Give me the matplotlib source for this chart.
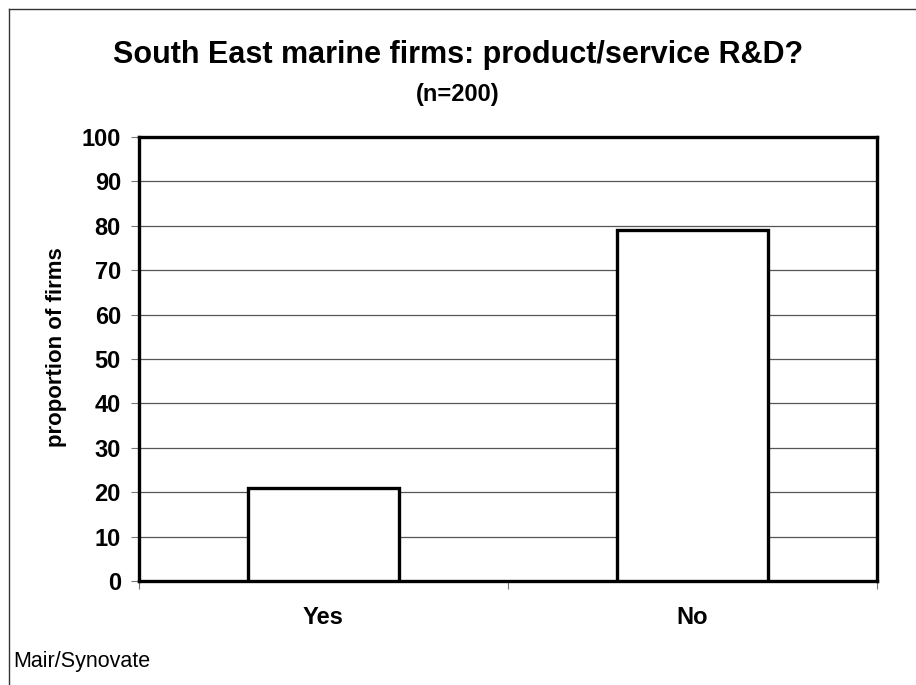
import matplotlib.pyplot as plt
from matplotlib.lines import Line2D

plt.rcParams['font.family'] = ['Liberation Sans', 'DejaVu Sans']

# survey answers (percent of firms)
categories = ["Yes", "No"]
shares = [21, 79]
y_ticks = list(range(0, 101, 10))

fig = plt.figure(figsize=(9.16, 6.85), dpi=100)
ax = fig.add_axes([0.1517, 0.1518, 0.8057, 0.6482])

# bars centred in their category slots
pos = [i + 0.5 for i in range(len(categories))]
ax.bar(pos, shares, width=0.41, color="white", edgecolor="black",
       linewidth=2.4, zorder=3)

ax.set_xlim(0, len(categories))
ax.set_ylim(0, 100)
ax.set_yticks(y_ticks)
ax.set_yticklabels([str(v) for v in y_ticks], fontsize=17, fontweight="bold")
ax.yaxis.grid(True, color="#555555", linewidth=0.9)
ax.set_axisbelow(True)

# category boundary ticks below the axis, labels in the middle
ax.set_xticks(range(len(categories) + 1))
ax.set_xticklabels([])
ax.set_xticks(pos, minor=True)
ax.set_xticklabels(categories, minor=True, fontsize=17, fontweight="bold")
ax.tick_params(axis="x", which="major", length=6, color="#777777", width=0.8)
ax.tick_params(axis="x", which="minor", length=0, pad=18)
ax.tick_params(axis="y", length=6, color="#777777", width=0.8, pad=7)

for s in ax.spines.values():
    s.set_linewidth(2.4)
    s.set_color("black")

fig.text(0.0622, 0.4927, "proportion of firms", rotation=90,
         ha="center", va="center", fontsize=16, fontweight="bold")

fig.text(0.5, 0.908, "South East marine firms: product/service R&D?",
         ha="center", va="baseline", fontsize=22, fontweight="bold")
fig.text(0.5, 0.852, "(n=200)", ha="center", va="baseline",
         fontsize=17, fontweight="bold")
fig.text(0.014, 0.026, "Mair/Synovate", ha="left", va="baseline", fontsize=15.5)

# frame on the left and top of the chart area
fig.add_artist(Line2D([0.0098, 0.0098], [0.0, 0.987], color="#333333",
                      linewidth=1.0, transform=fig.transFigure))
fig.add_artist(Line2D([0.0098, 1.0], [0.987, 0.987], color="#333333",
                      linewidth=1.0, transform=fig.transFigure))

fig.savefig("out.png", dpi=100)
